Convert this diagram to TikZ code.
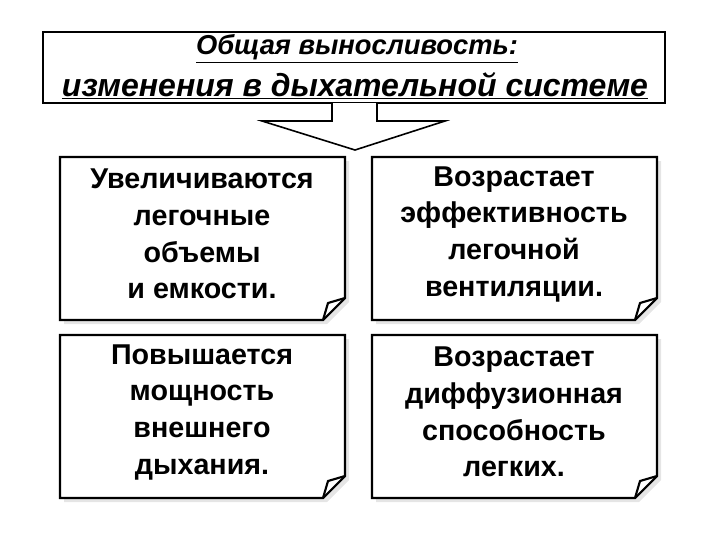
\documentclass[tikz,border=0pt]{standalone}
\usepackage{fontspec}
\setmainfont{Liberation Sans}
\begin{document}
\begin{tikzpicture}[x=0.75pt,y=-0.75pt,
 ln/.style={line width=1.6pt,line join=miter},
 txt/.style={font=\bfseries\fontsize{21.5}{27.5}\selectfont,align=center}]
\useasboundingbox (0,0) rectangle (720,540);
% title
\draw[ln,fill=white] (43,32) rectangle (665,103);
\node (t1) at (357,49) {\fontsize{20.5}{22}\selectfont\bfseries\itshape\underline{Общая выносливость:}};
\node (t2) at (355,86) {\fontsize{24}{28}\selectfont\bfseries\itshape\underline{изменения в дыхательной системе}};
% arrow
\draw[line width=1.2pt,fill=white] (332,103) -- (332,121) -- (262,121) -- (355,150) -- (445,121) -- (377,121) -- (377,103);
\foreach \n/\x/\y/\t in {a/60/157/{Увеличиваются\\легочные\\объемы\\и емкости.},
 b/372/157/{Возрастает\\эффективность\\легочной\\вентиляции.},
 c/60/335/{Повышается\\мощность\\внешнего\\дыхания.},
 d/372/335/{Возрастает\\диффузионная\\способность\\легких.}}{
 \fill[gray!20] (\x+4,\y+4) -- (\x+4+285,\y+4) -- (\x+4+285,\y+4+141) -- (\x+4+263,\y+4+163) -- (\x+4,\y+4+163) -- cycle;
 \draw[ln,fill=white] (\x,\y) -- (\x+285,\y) -- (\x+285,\y+141) -- (\x+263,\y+163) -- (\x,\y+163) -- cycle;
 \draw[ln,line join=round] (\x+263,\y+163) -- (\x+268,\y+146) -- (\x+285,\y+141);
 \node[txt] (\n) at (\x+142,\y+77) {\t};
}
\end{tikzpicture}
\end{document}
